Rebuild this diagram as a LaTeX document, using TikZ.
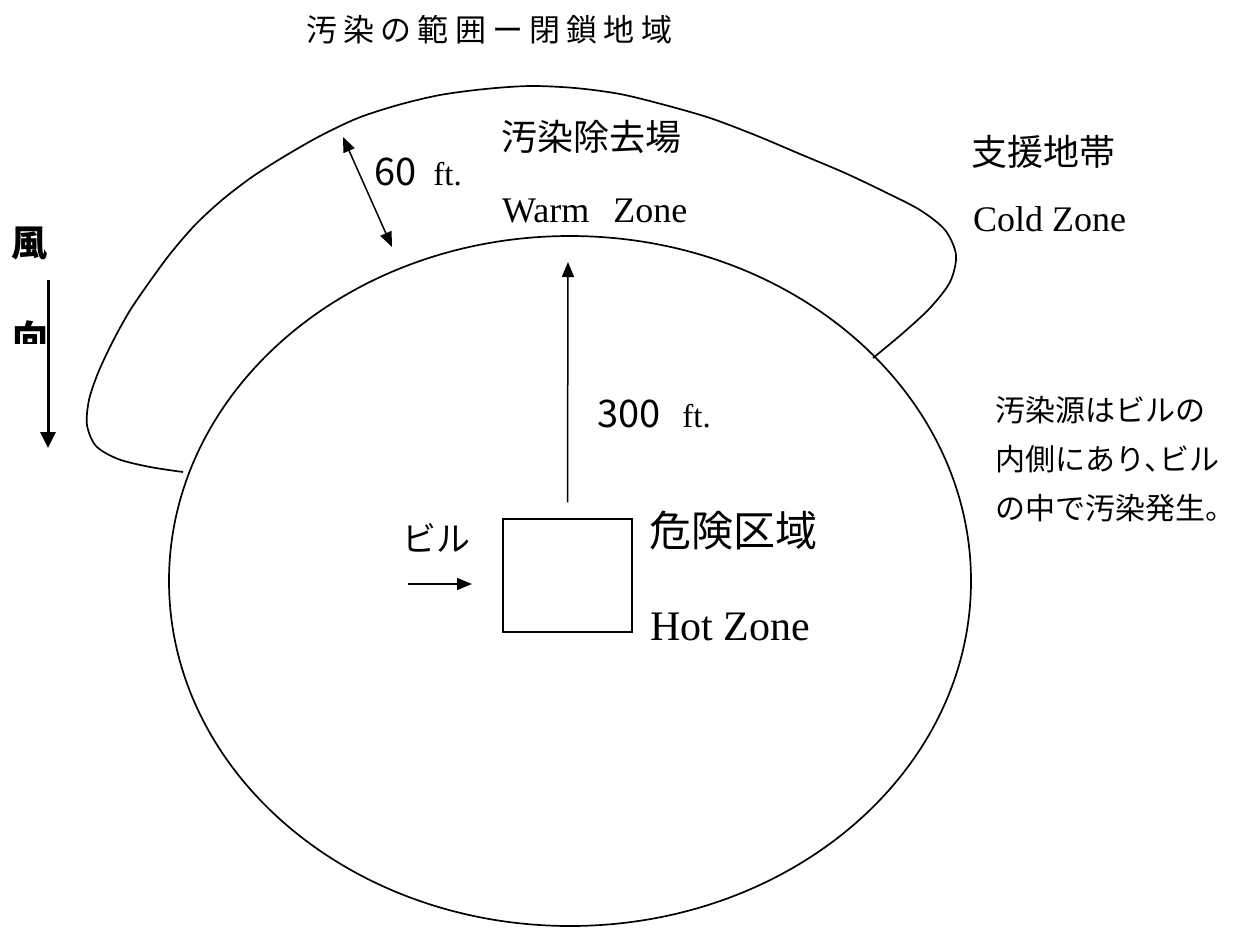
\documentclass[tikz,border=0pt]{standalone}
\usepackage{fontspec}
\setmainfont{Liberation Serif}
\newfontfamily\cjk{Noto Sans CJK JP}
\newfontfamily\cjktitle[LetterSpace=20]{Noto Sans CJK JP}
\usetikzlibrary{arrows.meta}
\newcommand\fsz[1]{\fontsize{#1}{#1}\selectfont}
\tikzset{
  outline/.style={line width=1.7pt, line join=round},
  cj/.style={inner sep=0pt, anchor=west},
  lat/.style={inner sep=0pt, anchor=base west},
  arr/.style={line width=1.5pt, -{Triangle[length=15pt,width=12pt]}},
  darr/.style={line width=1.5pt, {Triangle[length=15pt,width=12pt]}-{Triangle[length=15pt,width=12pt]}},
  windarr/.style={line width=3pt, -{Triangle[length=16pt,width=15pt]}},
}
\begin{document}
\begin{tikzpicture}[x=1pt,y=-1pt]
\fill[white] (0,0) rectangle (1248,938);
\useasboundingbox (0,0) rectangle (1248,938);

% zones
\draw[outline] (570,581) ellipse [x radius=401, y radius=345];
\draw[outline] plot[smooth, tension=0.5] coordinates {(183,472) (150,467) (118,459) (96,446) (87,425) (89,400) (98,373) (112,343) (129,312) (148,284) (170,254) (195,225) (222,200) (252,177) (285,156) (320,136) (358,118) (398,105) (440,95) (485,89) (530,86) (575,88) (620,94) (665,105) (710,118) (755,135) (800,154) (845,173) (885,192) (920,210) (945,230) (956,255) (950,282) (930,308) (903,333) (873,358)};

% building
\node[draw, line width=1.5pt, minimum width=129pt, minimum height=113pt, inner sep=0pt] (bldg) at (567.5,575.5) {};

% texts
\node[cj, font=\cjktitle\fsz{31}] (title) at (306,30) {汚染の範囲ー閉鎖地域};
\node[cj, font=\cjk\fsz{36}] (warmj) at (501,137) {汚染除去場};
\node[lat, font=\fsz{36}] (warm) at (502,222) {Warm\hspace{24pt}Zone};
\node[cj, font=\cjk\fsz{36}] (coldj) at (971,152) {支援地帯};
\node[lat, font=\fsz{36}] (cold) at (973,231) {Cold Zone};
\node[cj, font=\cjk\fsz{42}] (hotj) at (649,531) {危険区域};
\node[lat, font=\fsz{42}] (hot) at (650,640) {Hot Zone};
\node[cj, font=\cjk\fsz{34}] (bill) at (402,538) {ビル};
\node[cj, font=\cjk\bfseries\fsz{36}] (wind1) at (11,243) {風};
\begin{scope}
  \clip (0,300) rectangle (100,343);
  \node[cj, font=\cjk\bfseries\fsz{36}] (wind2) at (12,338) {向};
\end{scope}
\node[lat] (d60) at (374,185) {{\cjk\fsz{38}60}\hspace{17pt}{\fsz{33}ft.}};
\node[lat] (d300) at (597,427) {{\cjk\fsz{38}300}\hspace{22pt}{\fsz{33}ft.}};
\node[inner sep=0pt, anchor=north west, align=left, font=\cjk\fontsize{30}{49}\selectfont] (note) at (995,396) {汚染源はビルの\\内側にあり、\kern-0.5em ビル\\の中で汚染発生。};

% arrows
\coordinate (vtip) at (568,262);
\draw[arr] ([yshift=16pt]bldg.north) -- (vtip);
\coordinate (ba) at (408,584);
\coordinate (bt) at (472,584);
\draw[arr] (ba) -- (bt);
\coordinate (s1) at (343,137);
\coordinate (s2) at (392,247);
\draw[darr] (s1) -- (s2);
\coordinate (w1) at (48,280);
\coordinate (w2) at (48,448);
\draw[windarr] (w1) -- (w2);
\end{tikzpicture}
\end{document}
